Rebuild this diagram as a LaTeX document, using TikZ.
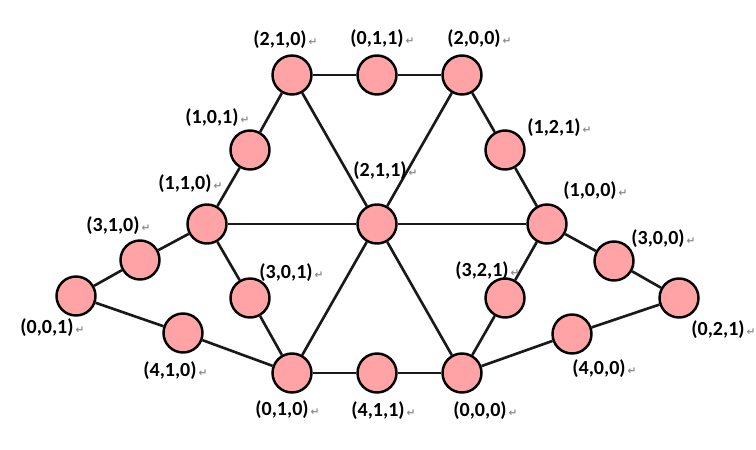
\documentclass[tikz,border=0pt]{standalone}
\usepackage{fontspec}
\setmainfont{Carlito}
\newfontfamily\symfont{DejaVu Sans}
\definecolor{vpink}{HTML}{FFA3A6}
\definecolor{pmark}{HTML}{8C8C8C}
\newcommand{\parmark}{\kern1.2pt{\symfont\fontsize{6}{6}\selectfont\textcolor{pmark}{↵}}}
\usetikzlibrary{positioning}

\begin{document}
\begin{tikzpicture}[
  x=0.02cm, y=-0.02cm,
  vtx/.style={circle, draw=black, fill=vpink, line width=1.4pt,
              minimum size=0.78cm, inner sep=0pt},
  vlabel/.style={anchor=base west, inner sep=0pt,
                 font=\fontsize{11.4}{13}\selectfont\bfseries},
  link/.style={line width=1.5pt, black!90},
]
\useasboundingbox (0,0) rectangle (756,449);

% inner triangle lattice
\node[vtx] (n210) at (292,75) {};
\node[vtx] (n011) at (377,75) {};
\node[vtx] (n200) at (462,75) {};
\node[vtx] (n101) at (250,150) {};
\node[vtx] (n121) at (505,150) {};
\node[vtx] (n110) at (207,224) {};
\node[vtx] (n211) at (377,224) {};
\node[vtx] (n100) at (547,224) {};
\node[vtx] (n301) at (250,298) {};
\node[vtx] (n321) at (505,298) {};
\node[vtx] (n010) at (292,373) {};
\node[vtx] (n411) at (377,373) {};
\node[vtx] (n000) at (462,373) {};

% outer wings
\node[vtx] (n310) at (140,260) {};
\node[vtx] (n001) at (76,296) {};
\node[vtx] (n410) at (183,333) {};
\node[vtx] (n300) at (614,261) {};
\node[vtx] (n021) at (679,298) {};
\node[vtx] (n400) at (572,334) {};

% edges
\draw[link] (n210) -- (n011) -- (n200);
\draw[link] (n010) -- (n411) -- (n000);
\draw[link] (n210) -- (n101) -- (n110);
\draw[link] (n200) -- (n121) -- (n100);
\draw[link] (n110) -- (n301) -- (n010);
\draw[link] (n100) -- (n321) -- (n000);
\draw[link] (n110) -- (n211) -- (n100);
\draw[link] (n210) -- (n211) -- (n000);
\draw[link] (n200) -- (n211) -- (n010);
\draw[link] (n110) -- (n310) -- (n001) -- (n410) -- (n010);
\draw[link] (n100) -- (n300) -- (n021) -- (n400) -- (n000);

% labels
\node[vlabel] (l210) at (253,46) {(2,1,0)\parmark};
\node[vlabel] (l011) at (350,45) {(0,1,1)\parmark};
\node[vlabel] (l200) at (447,45) {(2,0,0)\parmark};
\node[vlabel] (l101) at (185,124) {(1,0,1)\parmark};
\node[vlabel] (l121) at (527,133) {(1,2,1)\parmark};
\node[vlabel] (l110) at (158,190) {(1,1,0)\parmark};
\node[vlabel] (l211) at (353,176) {(2,1,1)\parmark};
\node[vlabel] (l100) at (563,196) {(1,0,0)\parmark};
\node[vlabel] (l310) at (86,231) {(3,1,0)\parmark};
\node[vlabel] (l300) at (631,244) {(3,0,0)\parmark};
\node[vlabel] (l001) at (20,333) {(0,0,1)\parmark};
\node[vlabel] (l021) at (691,335) {(0,2,1)\parmark};
\node[vlabel] (l301) at (259,278) {(3,0,1)\parmark};
\node[vlabel] (l321) at (455,276) {(3,2,1)\parmark};
\node[vlabel] (l410) at (143,376) {(4,1,0)\parmark};
\node[vlabel] (l400) at (572,374) {(4,0,0)\parmark};
\node[vlabel] (l010) at (255,415) {(0,1,0)\parmark};
\node[vlabel] (l411) at (351,416) {(4,1,1)\parmark};
\node[vlabel] (l000) at (453,416) {(0,0,0)\parmark};
\end{tikzpicture}
\end{document}
